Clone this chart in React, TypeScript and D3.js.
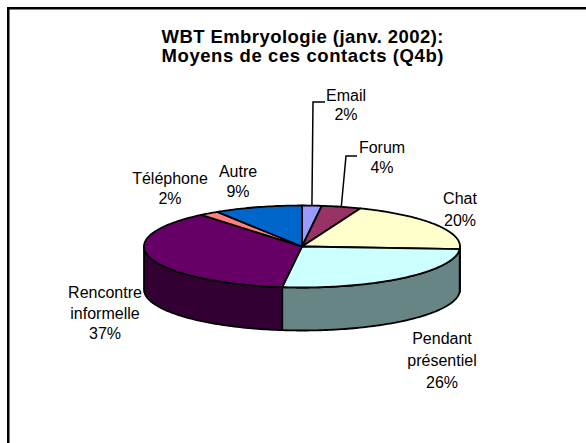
import React from "react";
import * as d3 from "d3";

const titleLines = ["WBT Embryologie (janv. 2002):", "Moyens de ces contacts (Q4b)"];
const categories = ["Email", "Forum", "Chat", "Pendant présentiel", "Rencontre informelle", "Téléphone", "Autre"];
const values = [2, 4, 20, 26, 37, 2, 9];
const topColors = ["#9999FF", "#993366", "#FFFFCC", "#CCFFFF", "#660066", "#FF8080", "#0066CC"];
const sideColors = ["#4D4D80", "#4D1A33", "#808066", "#688585", "#330033", "#804040", "#003366"];

// label layout: center x, first baseline, line height
const labelX = [346, 382, 460, 442, 105, 170, 238];
const labelY = [100.5, 152.7, 204.3, 344, 298.3, 184, 176.7];
const labelLH = [19, 20, 21.5, 21.8, 20.5, 20, 20.3];
// leader line elbows (only for Email and Forum)
const leaderElbow: ([number, number, number] | null)[] = [[325, 313, 102], [357, 346, 156], null, null, null, null, null];

const W = 586, H = 443;
const cx = 302, cy = 246.5, rx = 158, ry = 41, depth = 43;

function pt(t: number, dy = 0): [number, number] {
  return [cx + rx * Math.sin(t), cy - ry * Math.cos(t) + dy];
}
function arcPts(a0: number, a1: number, dy = 0): [number, number][] {
  const n = Math.max(2, Math.ceil(Math.abs(a1 - a0) / 0.02));
  const s = d3.scaleLinear().domain([0, n]).range([a0, a1]);
  return d3.range(n + 1).map((i) => pt(s(i), dy));
}
const line = d3.line<[number, number]>();

export default function App() {
  const arcs = d3.pie<number>().sort(null).startAngle(0).endAngle(2 * Math.PI)(values);

  const sides = arcs.map((a, i) => {
    const s = Math.max(a.startAngle, Math.PI / 2);
    const e = Math.min(a.endAngle, (3 * Math.PI) / 2);
    if (e <= s) return null;
    const pts = [...arcPts(s, e, 0), ...arcPts(e, s, depth)];
    return <path key={"s" + i} d={line(pts)! + "Z"} fill={sideColors[i]} stroke="#000" strokeWidth={1.8} strokeLinejoin="round" />;
  });

  const tops = arcs.map((a, i) => {
    const pts: [number, number][] = [[cx, cy], ...arcPts(a.startAngle, a.endAngle, 0)];
    return <path key={"t" + i} d={line(pts)! + "Z"} fill={topColors[i]} stroke="#000" strokeWidth={1.8} strokeLinejoin="round" />;
  });

  const leaders = arcs.map((a, i) => {
    const el = leaderElbow[i];
    if (!el) return null;
    const mid = (a.startAngle + a.endAngle) / 2;
    const end = pt(mid, 0);
    const pts: [number, number][] = [[el[0], el[2]], [el[1], el[2]], end];
    return <path key={"l" + i} d={line(pts)!} fill="none" stroke="#000" strokeWidth={1.5} />;
  });

  const labels = categories.map((c, i) => {
    const lines = [...c.split(" "), `${values[i]}%`];
    return (
      <text key={"lab" + i} x={labelX[i]} y={labelY[i]} textAnchor="middle" fontSize={16} fill="#000"
        fontFamily="'Liberation Sans', Arial, sans-serif">
        {lines.map((l, j) => (
          <tspan key={j} x={labelX[i]} y={labelY[i] + j * labelLH[i]}>{l}</tspan>
        ))}
      </text>
    );
  });

  return (
    <svg width={W} height={H} style={{ position: "absolute", left: 0, top: 0, background: "#fff" }}>
      <rect x={0} y={0} width={W} height={H} fill="#fff" />
      <rect x={8.25} y={8.25} width={W + 20} height={H + 20} fill="none" stroke="#000" strokeWidth={2.5} />
      {titleLines.map((t, i) => (
        <text key={"title" + i} x={302.5} y={42.5 + i * 19.5} textAnchor="middle" fontSize={18.5} fontWeight="bold"
          fontFamily="'Liberation Sans', Arial, sans-serif" textLength={282} lengthAdjust="spacing">{t}</text>
      ))}
      {sides}
      {tops}
      {leaders}
      {labels}
    </svg>
  );
}
